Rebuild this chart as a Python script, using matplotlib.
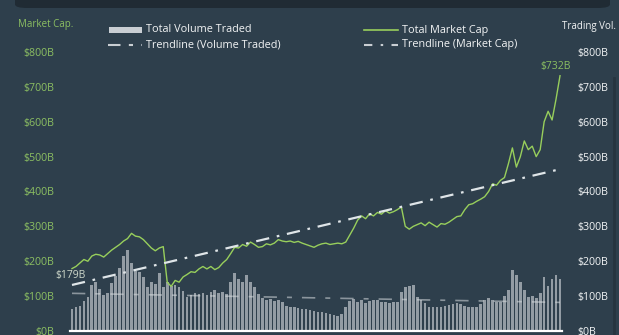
"""Crypto market cap vs. trading volume, dark dashboard style."""
import matplotlib
matplotlib.use("Agg")
import matplotlib.pyplot as plt
import numpy as np
from matplotlib.lines import Line2D
from matplotlib.patches import Rectangle, FancyBboxPatch

# values in $B (one sample every ~3 days)
market_cap = [
    179, 185, 195, 205, 200, 215, 220, 218, 212, 222,
    232, 240, 248, 258, 265, 280, 272, 270, 262, 250,
    238, 230, 238, 242, 140, 128, 145, 140, 155, 162,
    170, 168, 178, 185, 178, 185, 176, 182, 195, 205,
    222, 240, 238, 248, 243, 255, 248, 240, 242, 250,
    247, 252, 262, 258, 256, 258, 254, 257, 252, 248,
    244, 240, 246, 250, 252, 248, 250, 252, 250, 255,
    275, 295, 318, 330, 322, 336, 330, 340, 335, 345,
    338, 342, 348, 356, 300, 292, 300, 305, 310, 302,
    312, 305, 298, 308, 306, 312, 320, 328, 330, 348,
    362, 365, 372, 378, 385, 400, 422, 418, 432, 440,
    480, 525, 470, 500, 545, 520, 530, 500, 520, 600,
    630, 605, 665, 732,
]
volume = [
    62, 68, 72, 85, 98, 132, 140, 120, 103, 108,
    138, 158, 180, 215, 232, 195, 172, 168, 155, 125,
    140, 135, 166, 126, 140, 128, 132, 125, 115, 98,
    102, 108, 105, 110, 104, 112, 118, 108, 112, 106,
    140, 166, 150, 140, 160, 140, 125, 105, 95, 88,
    92, 86, 90, 84, 72, 70, 68, 66, 64, 62,
    60, 56, 55, 54, 52, 50, 46, 42, 48, 70,
    85, 92, 82, 88, 80, 86, 90, 88, 84, 82,
    80, 84, 82, 112, 125, 128, 132, 98, 88, 80,
    70, 68, 70, 68, 72, 75, 78, 80, 76, 72,
    70, 68, 70, 78, 88, 96, 88, 84, 82, 100,
    118, 175, 160, 140, 118, 98, 100, 95, 110, 155,
    128, 150, 162, 150,
]
mcap_trend = [132, 464]   # start / end of the dash-dot trend
vol_trend = [108, 82]
yticks = [0, 100, 200, 300, 400, 500, 600, 700, 800]

BG = "#2e3f4c"
GREEN = "#98cf5c"
TICK_GREEN = "#8cbf62"
WHITE = "#f2f4f5"
BAR = "#c9ced3"

plt.rcParams.update({
    "font.family": ["Open Sans", "DejaVu Sans"],
    "font.size": 7.5,
})

W, H = 619, 335


def px(x):
    return x / W


def py(y):
    return 1 - y / H


fig = plt.figure(figsize=(W / 100, H / 100), dpi=100, facecolor=BG)

# dark header strip with rounded bottom corners
fig.add_artist(FancyBboxPatch((px(15), py(8)), px(595), 0.1,
                              boxstyle="round,pad=0,rounding_size=0.02",
                              transform=fig.transFigure, fc="#202b34",
                              ec="none", mutation_aspect=H / W))
fig.add_artist(Line2D([px(614), px(614)], [py(78), 0],
                      transform=fig.transFigure, color="#27343f", lw=2))

ax = fig.add_axes([px(70), py(331), px(492), 279 / H])
ax2 = ax.twinx()

n = len(market_cap)
x = np.arange(n)

ax2.bar(x, volume, width=0.68, color=BAR, alpha=0.66, lw=0)
ax2.plot([0, n - 1], vol_trend, color="#d8dde0", lw=1.2, alpha=0.55,
         ls=(0, (8, 6, 3, 6)))
ax2.plot([-0.5, n - 0.5], [0, 0], color="white", lw=1.6, clip_on=False)

ax.plot(x, market_cap, color=GREEN, lw=1.0)
ax.plot([0, n - 1], mcap_trend, color="#dfe5e8", lw=1.6,
        ls=(0, (6, 3.5, 1.2, 3.5)))
ax.text(3.5, market_cap[0] - 20, f"${market_cap[0]}B", ha="right",
        va="center", color="#cfd9cb", fontsize=7.5)
ax.text(n - 2, market_cap[-1] + 12, f"${market_cap[-1]}B", ha="center",
        va="bottom", color=TICK_GREEN, fontsize=7.5)

for a in (ax, ax2):
    a.set_xlim(-0.5, n - 0.5)
    a.set_ylim(0, 800)
    a.set_yticks(yticks)
    a.set_yticklabels([f"${v}B" for v in yticks])
    a.set_xticks([])
    for s in a.spines.values():
        s.set_visible(False)
    a.tick_params(axis="y", length=0, pad=11, labelsize=7.7)
ax.tick_params(axis="y", labelcolor=TICK_GREEN)
ax2.tick_params(axis="y", labelcolor=WHITE)
ax.set_zorder(ax2.get_zorder() + 1)
ax.patch.set_visible(False)
ax2.patch.set_visible(False)

fig.text(px(18), py(25), "Market Cap.", color=TICK_GREEN, fontsize=7,
         va="center", ha="left")
fig.text(px(562), py(26), "Trading Vol.", color=WHITE, fontsize=7,
         va="center", ha="left")

# hand-placed legend
fig.add_artist(Rectangle((px(109), py(33)), px(33), 6 / H,
                         transform=fig.transFigure, fc=BAR, ec="none"))
fig.add_artist(Line2D([px(108), px(142)], [py(45), py(45)],
                      transform=fig.transFigure, color="#c9ced3", lw=1.5,
                      ls=(0, (6, 4, 2, 4))))
fig.add_artist(Line2D([px(364), px(398)], [py(30), py(30)],
                      transform=fig.transFigure, color=GREEN, lw=1.2))
fig.add_artist(Line2D([px(364), px(398)], [py(45), py(45)],
                      transform=fig.transFigure, color="#c9ced3", lw=1.5,
                      ls=(0, (4, 4, 1.2, 4))))
for xx, yy, s in [(146, 30, "Total Volume Traded"),
                  (146, 45, "Trendline (Volume Traded)"),
                  (402, 30, "Total Market Cap"),
                  (402, 45, "Trendline (Market Cap)")]:
    fig.text(px(xx), py(yy), s, color=WHITE, fontsize=7.8, va="center",
             ha="left")

fig.savefig("out.png", dpi=100, facecolor=BG)
